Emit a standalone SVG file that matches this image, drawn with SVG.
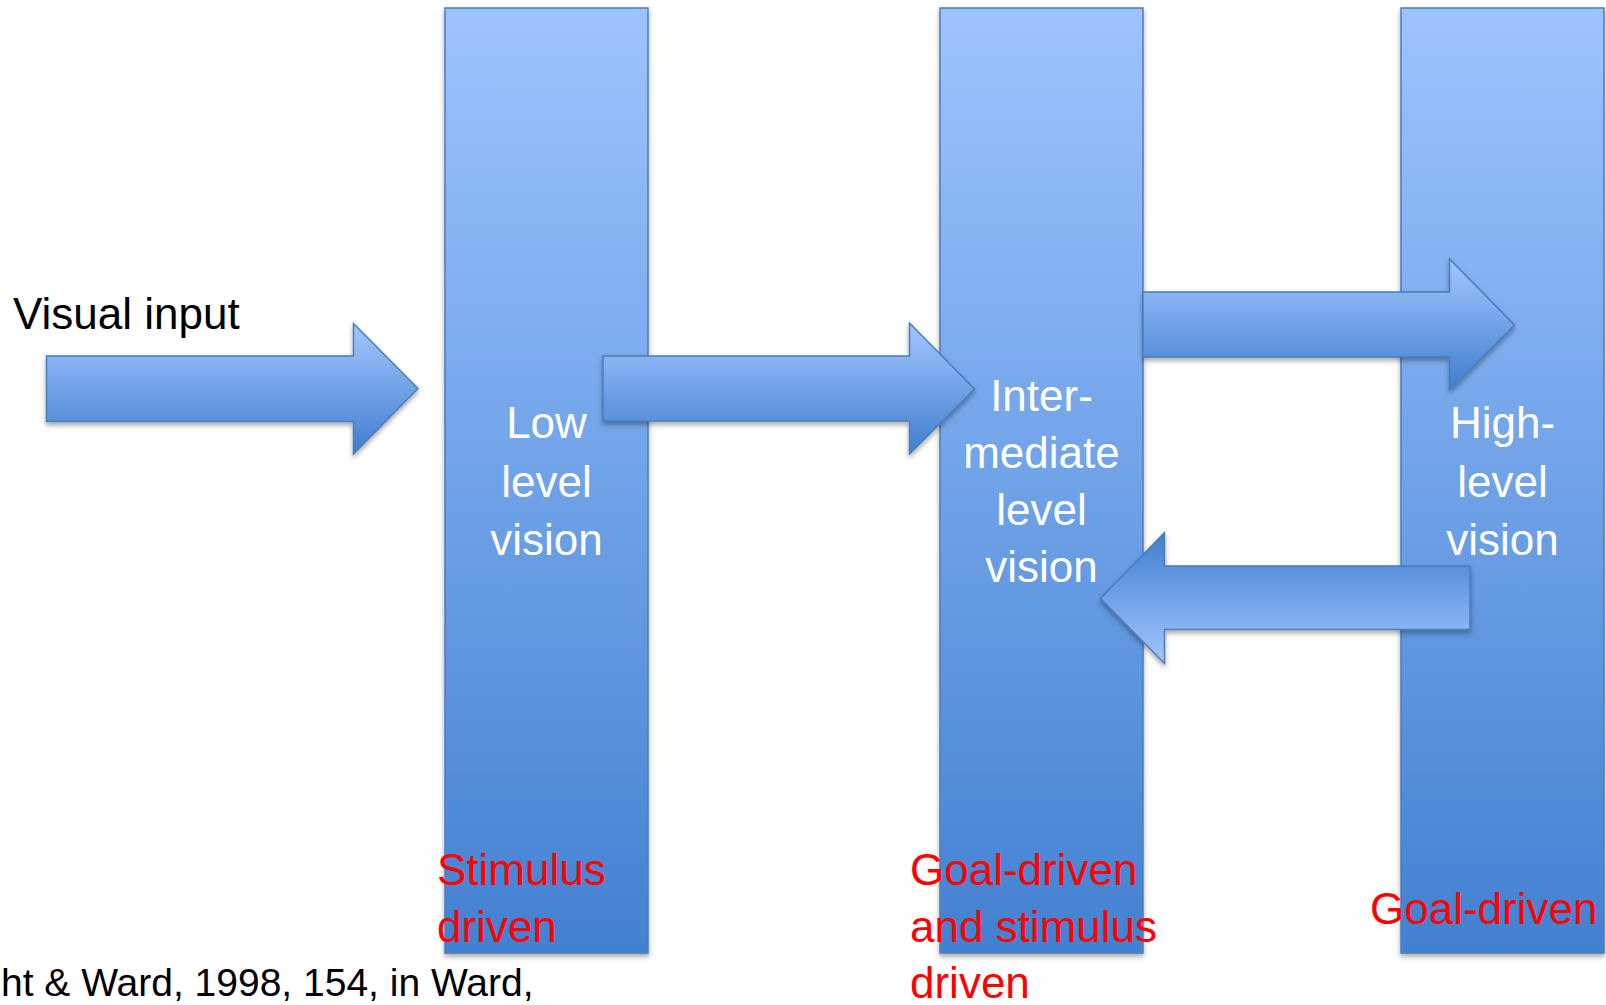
<svg xmlns="http://www.w3.org/2000/svg" width="1606" height="1005" viewBox="0 0 1606 1005">
  <defs>
    <linearGradient id="gBar" x1="0" y1="0" x2="0" y2="1">
      <stop offset="0" stop-color="#9DC3FF"/>
      <stop offset="1" stop-color="#4281D0"/>
    </linearGradient>
    <linearGradient id="gArrR" x1="0" y1="0" x2="0" y2="1">
      <stop offset="0" stop-color="#A3C6FF"/>
      <stop offset="1" stop-color="#3F7ECE"/>
    </linearGradient>
    <linearGradient id="gArrL" x1="0" y1="1" x2="0" y2="0">
      <stop offset="0" stop-color="#A3C6FF"/>
      <stop offset="1" stop-color="#3F7ECE"/>
    </linearGradient>
    <filter id="shadow" x="-10%" y="-10%" width="120%" height="130%">
      <feDropShadow dx="0" dy="3" stdDeviation="2.5" flood-color="#000" flood-opacity="0.35"/>
    </filter>
  </defs>
  <style>
    .bar { fill: url(#gBar); stroke: #4A7EBB; stroke-width: 1.5; filter: url(#shadow); }
    .arrR { fill: url(#gArrR); stroke: #4A7EBB; stroke-width: 1.5; stroke-linejoin: miter; filter: url(#shadow); }
    .arrL { fill: url(#gArrL); stroke: #4A7EBB; stroke-width: 1.5; stroke-linejoin: miter; filter: url(#shadow); }
    .lbl { font-family: "Liberation Sans", Arial, sans-serif; font-size: 44px; fill: #FFFFFF; text-anchor: middle; }
    .red { font-family: "Liberation Sans", Arial, sans-serif; font-size: 44px; fill: #FF0000; }
    .blk { font-family: "Liberation Sans", Arial, sans-serif; fill: #000000; }
  </style>

  <g id="low-level">
    <rect class="bar" x="445" y="8" width="203" height="945"/>
    <text class="lbl" x="546.5"><tspan x="546.5" y="438">Low</tspan><tspan x="546.5" y="497">level</tspan><tspan x="546.5" y="555">vision</tspan></text>
  </g>
  <g id="intermediate-level">
    <rect class="bar" x="940" y="8" width="203" height="945"/>
    <text class="lbl" x="1041.5"><tspan x="1041.5" y="411">Inter-</tspan><tspan x="1041.5" y="468">mediate</tspan><tspan x="1041.5" y="525">level</tspan><tspan x="1041.5" y="582">vision</tspan></text>
  </g>
  <g id="high-level">
    <rect class="bar" x="1401" y="8" width="203" height="945"/>
    <text class="lbl" x="1502.5"><tspan x="1502.5" y="438">High-</tspan><tspan x="1502.5" y="497">level</tspan><tspan x="1502.5" y="555">vision</tspan></text>
  </g>

  <g id="connectors">
    <path class="arrR" d="M46.5,356 L353.5,356 L353.5,323.5 L418,388.5 L353.5,454 L353.5,421.5 L46.5,421.5 Z"/>
    <path class="arrR" d="M603,356 L909.5,356 L909.5,323 L974.5,389 L909.5,454 L909.5,421 L603,421 Z"/>
    <path class="arrR" d="M1143,292 L1449.5,292 L1449.5,259 L1514.5,325 L1449.5,390 L1449.5,357 L1143,357 Z"/>
    <path class="arrL" d="M1470,566 L1164.5,566 L1164.5,532.5 L1100.5,598.5 L1164.5,663.5 L1164.5,629.5 L1470,629.5 Z"/>
  </g>

  <g id="annotations">
    <text class="blk" x="13" y="329" font-size="44">Visual input</text>
    <text class="red" x="437"><tspan x="437" y="885">Stimulus</tspan><tspan x="437" y="942">driven</tspan></text>
    <text class="red" x="910"><tspan x="910" y="885">Goal-driven</tspan><tspan x="910" y="942">and stimulus</tspan><tspan x="910" y="998">driven</tspan></text>
    <text class="red" x="1370" y="924">Goal-driven</text>
    <text class="blk" x="1" y="996" font-size="39">ht &amp; Ward, 1998, 154, in Ward,</text>
  </g>
</svg>
